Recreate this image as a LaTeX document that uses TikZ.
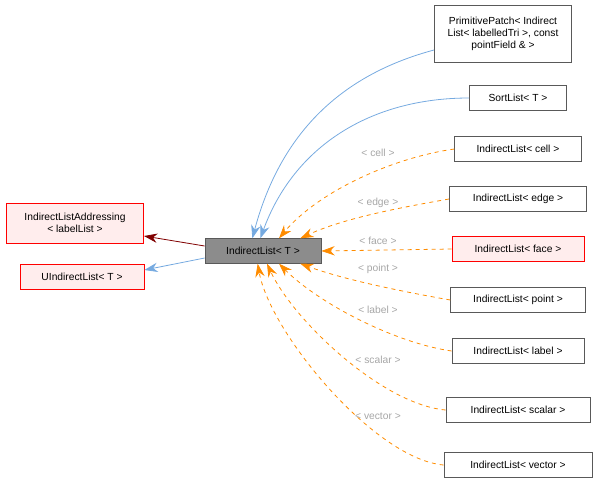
\documentclass[tikz,border=0pt]{standalone}
\usepackage{fontspec}
\setmainfont{Liberation Sans}
\usetikzlibrary{arrows.meta}
\begin{document}
\begin{tikzpicture}[x=0.75pt,y=-0.75pt,font=\fontsize{7.7}{9}\selectfont,line width=0.6pt]
\tikzstyle{cls} = [draw=black!65,fill=white,inner sep=2pt,align=center,minimum height=18.5pt,line width=0.5pt]
\tikzstyle{redcls} = [cls,draw=red,fill=red!7]
\tikzstyle{inh} = [draw=cyan!60!blue!55,-{Stealth[length=10pt,width=7pt]}]
\tikzstyle{tmpl} = [draw=orange!90!yellow,dashed,-{Stealth[length=10pt,width=7pt]}]
\tikzstyle{elabel} = [text=black!35,inner sep=1pt]

\useasboundingbox (0,0) rectangle (605,483);

\node[cls,fill=black!45,minimum width=87pt] (main) at (263,251) {IndirectList< T >};
\node[redcls,minimum width=103pt,minimum height=30pt] (addr) at (75,223) {IndirectListAddressing\\< labelList >};
\node[redcls,minimum width=93pt] (uil) at (82,277) {UIndirectList< T >};

\node[cls,minimum width=103pt,minimum height=43pt] (pp) at (503,34) {PrimitivePatch< Indirect\\List< labelledTri >, const\\pointField \& >};
\node[cls,minimum width=73pt] (sl) at (518,98) {SortList< T >};
\node[cls,minimum width=95pt] (cell) at (518,149) {IndirectList< cell >};
\node[cls,minimum width=103pt] (edge) at (518,199) {IndirectList< edge >};
\node[redcls,minimum width=99pt] (face) at (518,249) {IndirectList< face >};
\node[cls,minimum width=101pt] (point) at (518,300) {IndirectList< point >};
\node[cls,minimum width=99pt] (label) at (518,351) {IndirectList< label >};
\node[cls,minimum width=108pt] (scalar) at (518,410) {IndirectList< scalar >};
\node[cls,minimum width=111pt] (vector) at (518,465) {IndirectList< vector >};

\draw[-{Stealth[length=10pt,width=7pt]},draw=red!50!black] (main.west) ++(0,-5) coordinate (m1) (m1) -- (addr.east |- 0,236);
\draw[inh] (main.west) ++(0,7) coordinate (m2) (m2) -- (uil.east |- 0,270);
\draw[inh] (pp.west) ++(0,16) coordinate (p1) (p1) to[out=195,in=75] ([xshift=-8pt]main.north);
\draw[inh] (sl.west) to[out=180,in=70] ([xshift=-2pt]main.north);

\draw[tmpl] (cell.west) to[out=188,in=50,looseness=0.8] ([xshift=12pt]main.north);
\draw[tmpl] (edge.west) to[out=190,in=25,looseness=0.8] ([xshift=28pt]main.north);
\draw[tmpl] (face.west) -- (main.east);
\draw[tmpl] (point.west) to[out=170,in=-20,looseness=0.8] ([xshift=28pt]main.south);
\draw[tmpl] (label.west) to[out=172,in=-45,looseness=0.75] ([xshift=12pt]main.south);
\draw[tmpl] (scalar.west) to[out=175,in=-65,looseness=0.7] ([xshift=3pt]main.south);
\draw[tmpl] (vector.west) to[out=175,in=-80,looseness=0.65] ([xshift=-4pt]main.south);

\node[elabel] (lcell) at (378,153) {< cell >};
\node[elabel] (ledge) at (378,203) {< edge >};
\node[elabel] (lface) at (378,241) {< face >};
\node[elabel] (lpoint) at (378,269) {< point >};
\node[elabel] (llabel) at (378,310) {< label >};
\node[elabel] (lscalar) at (378,360) {< scalar >};
\node[elabel] (lvector) at (378,416) {< vector >};
\end{tikzpicture}
\end{document}
